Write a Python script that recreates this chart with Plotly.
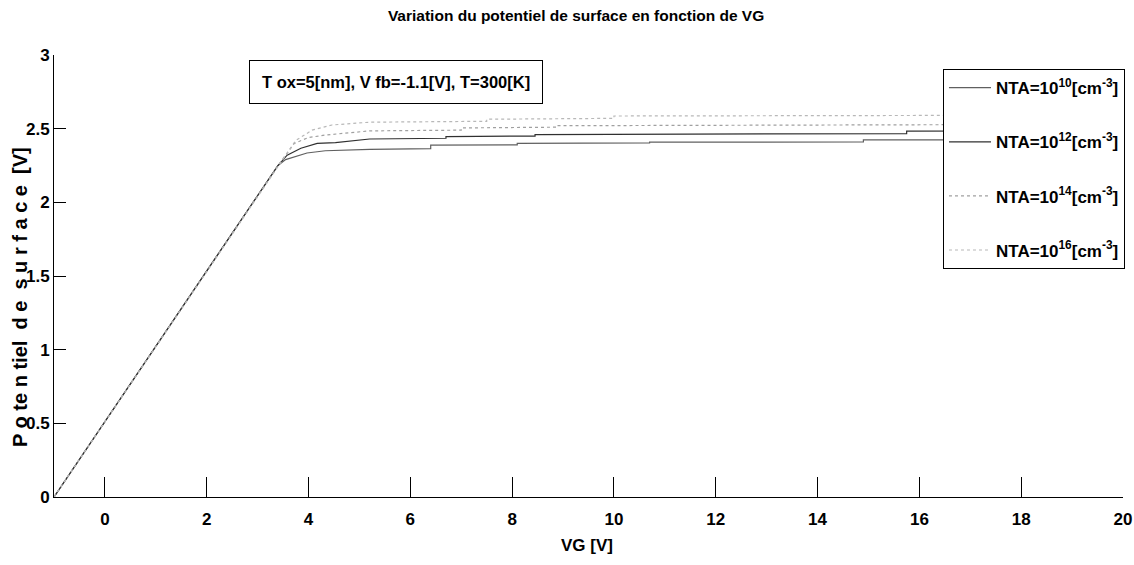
import plotly.graph_objects as go

# ---- data ----
vg_1e10 = [-1, 3.4, 3.55, 3.97, 4.33, 5.2, 6.4, 6.4, 8.1, 8.1, 10.7, 10.7, 14.9, 14.9, 20]
ps_1e10 = [0, 2.25, 2.29, 2.335, 2.35, 2.36, 2.365, 2.388, 2.39, 2.40, 2.403, 2.408, 2.41, 2.424, 2.425]

vg_1e12 = [-1, 3.4, 3.58, 3.85, 4.17, 4.53, 5.2, 6.7, 6.7, 8.45, 8.45, 15.75, 15.75, 20]
ps_1e12 = [0, 2.25, 2.32, 2.367, 2.40, 2.405, 2.43, 2.435, 2.446, 2.45, 2.46, 2.467, 2.483, 2.485]

vg_1e14 = [-1, 3.4, 3.72, 4.0, 4.34, 5.2, 7.0, 7.0, 8.85, 8.85, 20]
ps_1e14 = [0, 2.25, 2.40, 2.44, 2.457, 2.485, 2.49, 2.505, 2.51, 2.52, 2.53]

vg_1e16 = [-1, 3.4, 3.75, 4.07, 4.46, 5.2, 7.5, 7.5, 10, 10, 20]
ps_1e16 = [0, 2.25, 2.42, 2.49, 2.525, 2.544, 2.55, 2.564, 2.57, 2.586, 2.592]

labels = ["NTA=10<sup>10</sup>[cm<sup>-3</sup>]", "NTA=10<sup>12</sup>[cm<sup>-3</sup>]",
          "NTA=10<sup>14</sup>[cm<sup>-3</sup>]", "NTA=10<sup>16</sup>[cm<sup>-3</sup>]"]
x_ticks = [0, 2, 4, 6, 8, 10, 12, 14, 16, 18, 20]
y_ticks = [0, 0.5, 1, 1.5, 2, 2.5, 3]
y_ticktext = ["0", "0.5", "1", "1.5", "2", "2.5", "3"]

FONT = "Liberation Sans, Arial, sans-serif"

series = [(vg_1e10, ps_1e10, "#606060", "solid"),
          (vg_1e12, ps_1e12, "#303030", "solid"),
          (vg_1e14, ps_1e14, "#a0a0a0", "dot"),
          (vg_1e16, ps_1e16, "#b8b8b8", "dot")]

fig = go.Figure()
for i, (x, y, c, d) in enumerate(series):
    fig.add_trace(go.Scatter(x=x, y=y, mode="lines", name=labels[i], legendgroup=str(i),
                             line=dict(color=c, width=1.2, dash=d)))

fig.update_layout(
    width=1134, height=565,
    margin=dict(l=54, r=11, t=55, b=68, autoexpand=False),
    paper_bgcolor="white", plot_bgcolor="white",
    font=dict(family=FONT, size=16, color="black", weight="bold"),
    title=dict(text="Variation du potentiel de surface en fonction de VG",
               x=0.508, xref="container", y=0.973, yref="container", yanchor="middle",
               xanchor="center", font=dict(family=FONT, size=15.5, weight="bold")),
    showlegend=True,
    legend=dict(x=0.8316, y=0.968, xanchor="left", yanchor="top",
                bgcolor="white", bordercolor="black", borderwidth=1,
                font=dict(family=FONT, size=17, weight="bold"),
                tracegroupgap=29, itemwidth=42),
    xaxis=dict(range=[-1, 20], tickvals=x_ticks, ticks="inside", ticklen=20,
               tickcolor="black", showline=True, linecolor="black", linewidth=1,
               showgrid=False, zeroline=False, ticklabelstandoff=7, automargin=False,
               tickfont=dict(family=FONT, size=17, weight="bold")),
    yaxis=dict(range=[0, 3], tickvals=y_ticks, ticktext=y_ticktext, ticks="inside",
               ticklen=12, tickcolor="black", showline=True, linecolor="black",
               linewidth=1, showgrid=False, zeroline=False, automargin=False,
               tickfont=dict(family=FONT, size=17, weight="bold")),
)

fig.add_annotation(text="T ox=5[nm], V fb=-1.1[V], T=300[K]",
                   xref="paper", yref="paper", x=0.1824, y=0.9887,
                   xanchor="left", yanchor="top", showarrow=False,
                   bordercolor="black", borderwidth=1, borderpad=12, bgcolor="white",
                   font=dict(family=FONT, size=16.5, weight="bold"))

fig.add_annotation(text="VG [V]", xref="paper", yref="paper",
                   x=(587 - 54) / 1069, y=(497 - 545) / 442,
                   xanchor="center", yanchor="middle", showarrow=False,
                   font=dict(family=FONT, size=17, weight="bold"))

fig.add_annotation(text="P o te n tiel  d e  s u r f a c e  [V]",
                   xref="paper", yref="paper", x=-0.0318, y=0.4525,
                   xanchor="center", yanchor="middle", textangle=-90, showarrow=False,
                   font=dict(family=FONT, size=20, weight="bold"))

fig.write_html("out.html")
